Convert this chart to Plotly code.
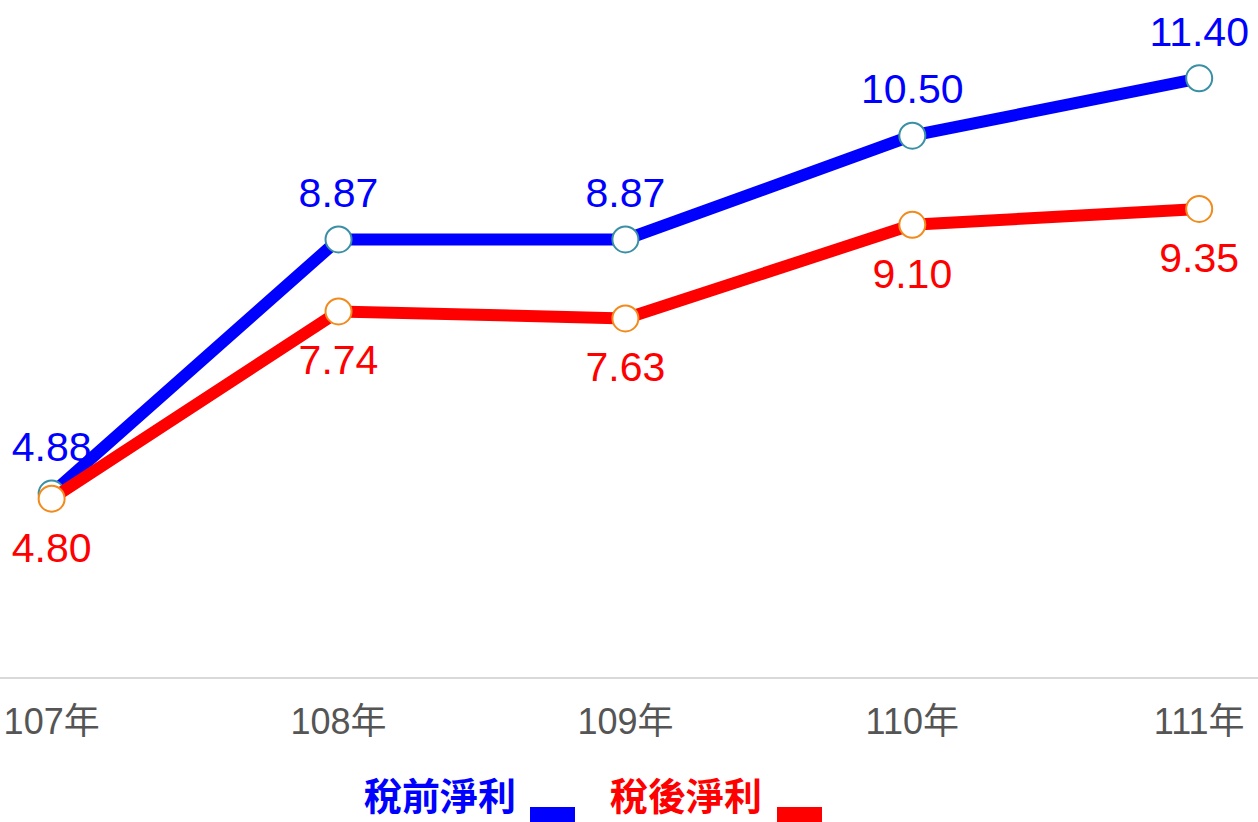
import plotly.graph_objects as go

categories = ["107年", "108年", "109年", "110年", "111年"]
pretax = [4.88, 8.87, 8.87, 10.50, 11.40]
aftertax = [4.80, 7.74, 7.63, 9.10, 9.35]
series_names = ["稅前淨利", "稅後淨利"]

x_idx = list(range(len(categories)))
label_font = "Arial, Liberation Sans"

fig = go.Figure()
for vals, lc, mc in [
    (pretax, "#0000ff", "#3a8fa5"),
    (aftertax, "#ff0000", "#f28a1c"),
]:
    fig.add_trace(go.Scatter(
        x=x_idx, y=vals, mode="lines+markers",
        line=dict(color=lc, width=12),
        marker=dict(size=26, color="white", line=dict(color=mc, width=2)),
        cliponaxis=False, showlegend=False, hoverinfo="skip",
    ))
for vals, lc, pos, msize in [
    (pretax, "#0000ff", "top center", 34),
    (aftertax, "#ff0000", "bottom center", 50),
]:
    fig.add_trace(go.Scatter(
        x=x_idx, y=vals, mode="markers+text",
        marker=dict(size=msize, color="rgba(0,0,0,0)"),
        text=[f"{v:.2f}" for v in vals], textposition=pos,
        textfont=dict(family=label_font, size=41, color=lc),
        cliponaxis=False, showlegend=False, hoverinfo="skip",
    ))

fig.update_layout(
    width=1258, height=822,
    margin=dict(l=0, r=0, t=0, b=145, autoexpand=False),
    plot_bgcolor="white", paper_bgcolor="white",
    xaxis=dict(
        range=[-0.18, 4.205], tickmode="array", tickvals=x_idx, ticktext=categories,
        showgrid=False, zeroline=False, showline=True, linecolor="#d9d9d9", linewidth=2,
        tickfont=dict(family="Arial, Liberation Sans, Noto Sans CJK TC", size=36, color="#555555"),
        ticks="", ticklabelstandoff=12, automargin=False,
    ),
    yaxis=dict(range=[2.0, 12.63], visible=False, showgrid=False, zeroline=False, automargin=False),
)

# custom legend: text followed by colour swatch
legend_items = [
    (series_names[0], "#0000ff", 362, 530),
    (series_names[1], "#ff0000", 608, 777),
]
for name, color, tx, sx in legend_items:
    fig.add_annotation(
        xref="paper", yref="paper", x=tx / 1258, y=-(794 - 677) / 677,
        text=f"<b>{name}</b>", showarrow=False, xanchor="left", yanchor="middle",
        font=dict(family="Noto Sans CJK TC", size=38, color=color),
    )
    fig.add_shape(
        type="rect", xref="paper", yref="paper",
        x0=sx / 1258, x1=(sx + 45) / 1258,
        y0=-(822 - 677) / 677, y1=-(807 - 677) / 677,
        fillcolor=color, line=dict(width=0),
    )

fig.write_html(
    "out.html",
    config={"displayModeBar": False},
    post_script="document.body.style.margin='0';document.body.style.overflow='hidden';",
)
